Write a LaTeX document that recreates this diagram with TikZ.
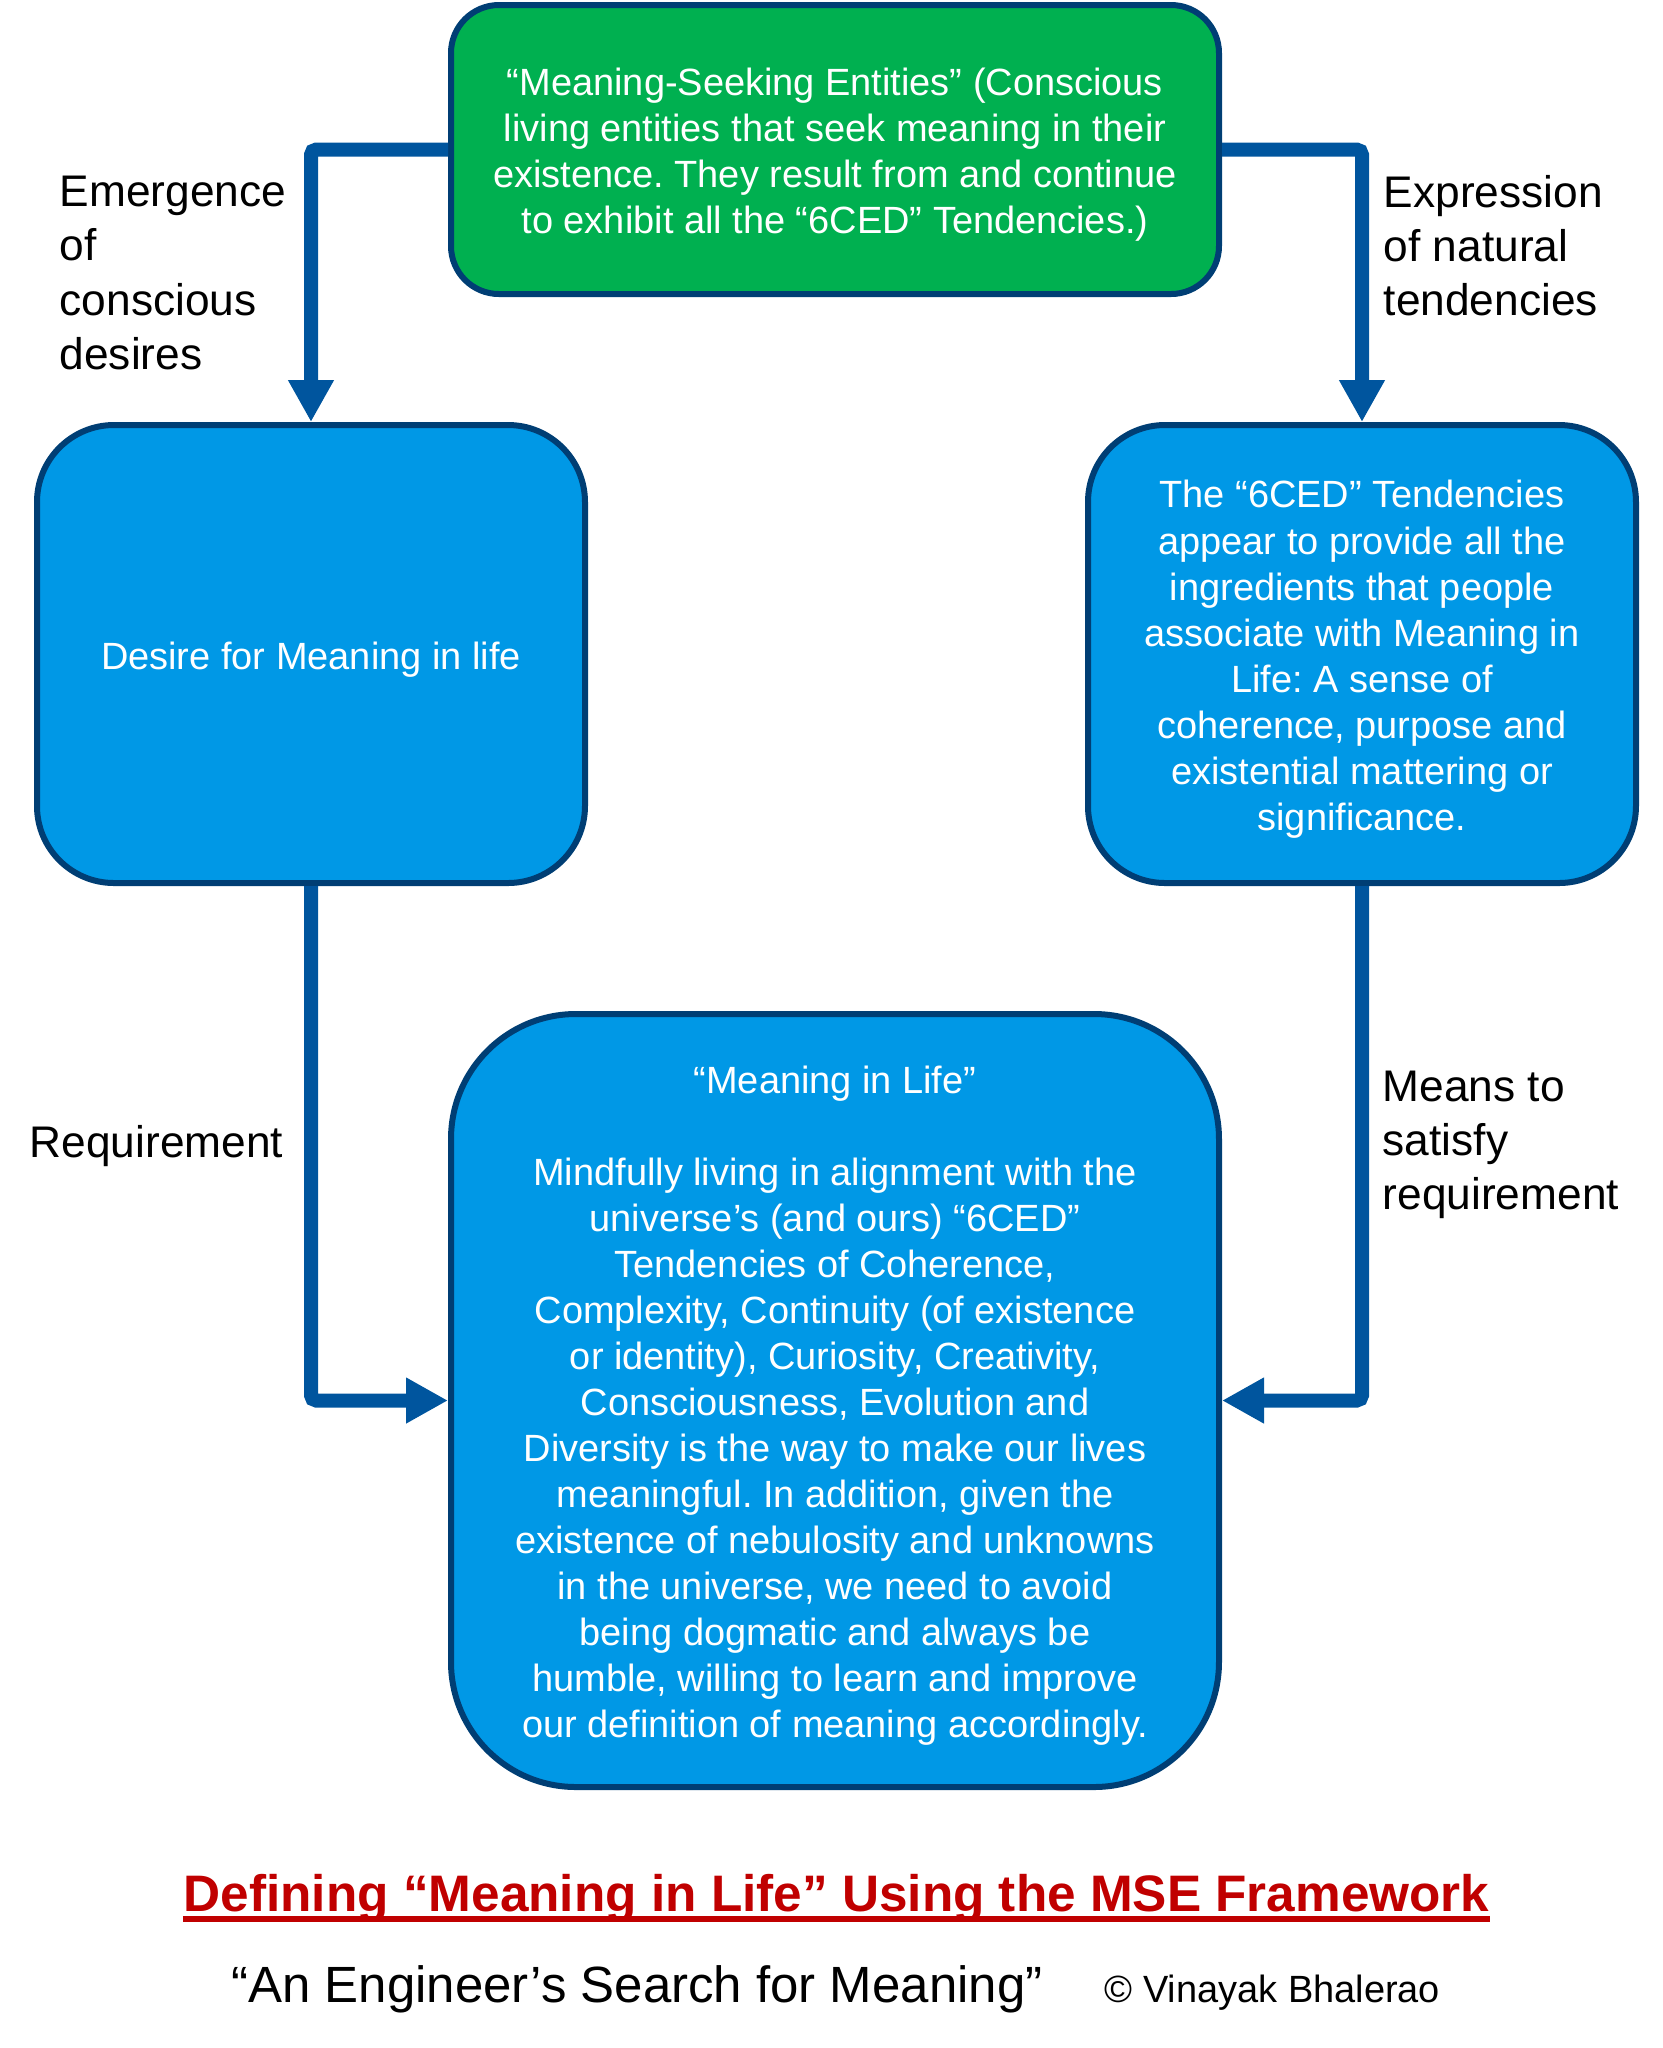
\documentclass[tikz,border=0pt]{standalone}
\usepackage{fontspec}
\setmainfont{Liberation Sans}
\frenchspacing
\usepackage{tikz}
\usetikzlibrary{arrows.meta,shapes}
\definecolor{seekgreen}{RGB}{0,176,80}
\definecolor{lifeblue}{RGB}{0,152,230}
\definecolor{edgeblue}{RGB}{0,62,116}
\definecolor{arrowblue}{RGB}{0,85,158}
\definecolor{titlered}{RGB}{192,0,0}
% centred lines, set a little lower than the box middle
\newcommand{\boxlines}[2]{\raisebox{-1.5pt}[\height][\depth]{%
    \parbox{#1}{\centering #2}}}

\begin{document}
\begin{tikzpicture}[
    mainbox/.style={rectangle, draw=edgeblue, line width=0.06cm, text=white,
        inner sep=0pt, font=\fontsize{10.8}{13.1}\selectfont},
    conn/.style={draw=arrowblue, line width=0.14cm, rounded corners=1.5pt,
        -{Triangle[length=4.2mm, width=4.3mm]}},
    lbl/.style={anchor=west, align=left, inner sep=0pt,
        font=\fontsize{12.6}{15.4}\selectfont}
]
\useasboundingbox (0,0) rectangle (16.63,-20.48);

\node[mainbox, fill=seekgreen, rounded corners=0.48cm, minimum width = 7.68cm,
    minimum height = 2.89cm] (seek) at (8.35,-1.495)
    {\boxlines{7.4cm}{“Meaning-Seeking Entities” (Conscious\\
     living entities that seek meaning in their\\
     existence. They result from and continue\\
     to exhibit all the “6CED” Tendencies.)}};

\node[mainbox, fill=lifeblue, rounded corners=0.77cm, minimum width = 5.48cm,
    minimum height = 4.58cm] (desire) at (3.11,-6.54)
    {\boxlines{5.3cm}{Desire for Meaning in life}};
\node[mainbox, fill=lifeblue, rounded corners=0.77cm, minimum width = 5.48cm,
    minimum height = 4.58cm] (tend) at (13.62,-6.54)
    {\boxlines{5.3cm}{The “6CED” Tendencies\\
     appear to provide all the\\
     ingredients that people\\
     associate with Meaning in\\
     Life: A sense of\\
     coherence, purpose and\\
     existential mattering or\\
     significance.}};

\node[mainbox, fill=lifeblue, rounded corners=1.25cm, minimum width = 7.68cm,
    minimum height = 7.73cm] (life) at (8.35,-14.005)
    {\boxlines{7.4cm}{“Meaning in Life”\\[13.1pt]
     Mindfully living in alignment with the\\
     universe’s (and ours) “6CED”\\
     Tendencies of Coherence,\\
     Complexity, Continuity (of existence\\
     or identity), Curiosity, Creativity,\\
     Consciousness, Evolution and\\
     Diversity is the way to make our lives\\
     meaningful. In addition, given the\\
     existence of nebulosity and unknowns\\
     in the universe, we need to avoid\\
     being dogmatic and always be\\
     humble, willing to learn and improve\\
     our definition of meaning accordingly.}};

% connectors
\draw[conn] (seek.west) -| (desire.north);
\draw[conn] (seek.east) -| (tend.north);
\draw[conn] (desire.south) |- (life.west);
\draw[conn] (tend.south) |- (life.east);

% labels
\node[lbl] (emerge) at (0.59,-2.73) {Emergence\\of\\conscious\\desires};
\node[lbl] (express) at (13.83,-2.46) {Expression\\of natural\\tendencies};
\node[lbl] (require) at (0.29,-11.46) {Requirement};
\node[lbl] (means) at (13.82,-11.45) {Means to\\satisfy\\requirement};

% title and credits
\node[anchor=base, inner sep=0pt, text=titlered,
    font=\fontsize{14.6}{17}\selectfont\bfseries] (title) at (8.365,-19.11)
    {Defining “Meaning in Life” Using the MSE Framework};
\draw[titlered, line width=0.06cm] ([yshift=-0.08cm]title.base west)
    -- ([yshift=-0.08cm]title.base east);
\node[anchor=base, inner sep=0pt, font=\fontsize{14.5}{17}\selectfont]
    (book) at (6.37,-20.02) {“An Engineer’s Search for Meaning”};
\node[anchor=base west, inner sep=0pt, font=\fontsize{10.8}{13}\selectfont]
    (author) at (11.04,-20.02) {© Vinayak Bhalerao};
\end{tikzpicture}
\end{document}
